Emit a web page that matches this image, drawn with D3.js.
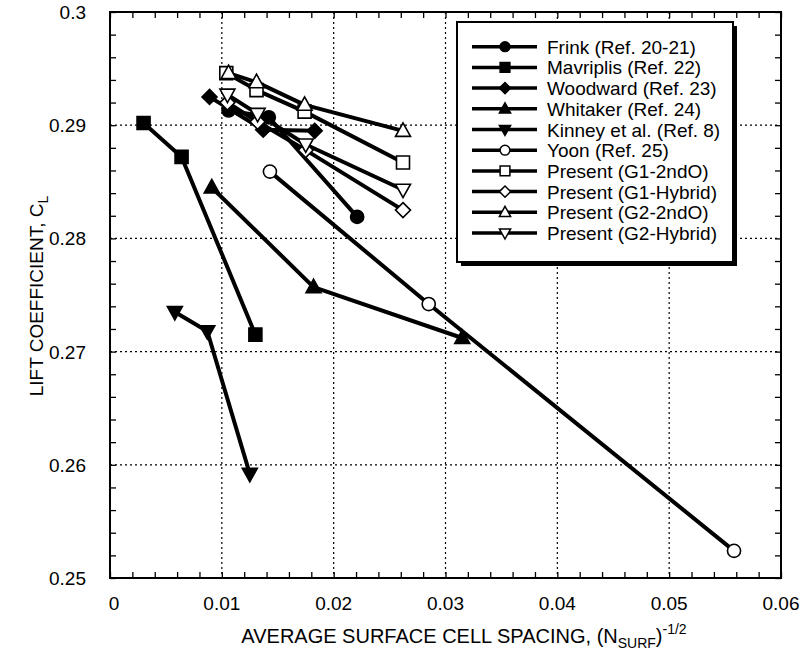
<!DOCTYPE html>
<html><head><meta charset="utf-8">
<script src="https://cdn.jsdelivr.net/npm/d3@7"></script>
<style>body{margin:0;background:#fff}svg{display:block}text{font-family:"Liberation Sans",Arial,sans-serif;fill:#000}</style>
</head><body><svg id="c" width="809" height="657"></svg>
<script>
// ---- data ----
const seriesNames = ["Frink (Ref. 20-21)","Mavriplis (Ref. 22)","Woodward (Ref. 23)","Whitaker (Ref. 24)","Kinney et al. (Ref. 8)","Yoon (Ref. 25)","Present (G1-2ndO)","Present (G1-Hybrid)","Present (G2-2ndO)","Present (G2-Hybrid)"];
const seriesSymbols = ["circle","square","diamond","triangle","triangleDown","circle","square","diamond","triangle","triangleDown"];
const seriesFilled = [true,true,true,true,true,false,false,false,false,false];
const frinkX = [0.0106,0.0142,0.0221];      const frinkY = [0.2913,0.2907,0.2819];
const mavriplisX = [0.0030,0.0064,0.0130];  const mavriplisY = [0.2902,0.2872,0.2715];
const woodwardX = [0.0089,0.0137,0.0183];   const woodwardY = [0.2925,0.2896,0.2895];
const whitakerX = [0.0091,0.0182,0.0315];   const whitakerY = [0.2845,0.2757,0.2712];
const kinneyX = [0.0058,0.0087,0.0125];     const kinneyY = [0.2735,0.2718,0.2592];
const yoonX = [0.0143,0.0285,0.0558];       const yoonY = [0.2859,0.2742,0.2524];
const g1SecondX = [0.0104,0.0131,0.0174,0.0262]; const g1SecondY = [0.2946,0.2931,0.2912,0.2867];
const g1HybridX = [0.0105,0.0132,0.0175,0.0262]; const g1HybridY = [0.2920,0.2903,0.2878,0.2825];
const g2SecondX = [0.0106,0.0131,0.0174,0.0262]; const g2SecondY = [0.2946,0.2938,0.2918,0.2895];
const g2HybridX = [0.0105,0.0132,0.0175,0.0262]; const g2HybridY = [0.2927,0.2910,0.2883,0.2843];
const seriesX = [frinkX,mavriplisX,woodwardX,whitakerX,kinneyX,yoonX,g1SecondX,g1HybridX,g2SecondX,g2HybridX];
const seriesY = [frinkY,mavriplisY,woodwardY,whitakerY,kinneyY,yoonY,g1SecondY,g1HybridY,g2SecondY,g2HybridY];
const xTicks = [0,0.01,0.02,0.03,0.04,0.05,0.06];
const xTickLabels = ["0","0.01","0.02","0.03","0.04","0.05","0.06"];
const yTicks = [0.25,0.26,0.27,0.28,0.29,0.3];
const yTickLabels = ["0.25","0.26","0.27","0.28","0.29","0.3"];

// ---- layout ----
const L=110,R=781,T=12,B=578;
const svg=d3.select("#c");
const x=d3.scaleLinear().domain([0,0.06]).range([L,R]);
const y=d3.scaleLinear().domain([0.25,0.3]).range([B,T]);

// grid
const g=svg.append("g");
g.selectAll(".gx").data(xTicks.slice(1,-1)).enter().append("line")
 .attr("x1",d=>x(d)).attr("x2",d=>x(d)).attr("y1",T).attr("y2",B)
 .attr("stroke","#000").attr("stroke-width",1.2).attr("stroke-dasharray","2,3");
g.selectAll(".gy").data(yTicks.slice(1,-1)).enter().append("line")
 .attr("y1",d=>y(d)).attr("y2",d=>y(d)).attr("x1",L).attr("x2",R)
 .attr("stroke","#000").attr("stroke-width",1.2).attr("stroke-dasharray","2,3");

// axes (ticks inward)
const minorX=d3.range(0,0.0601,0.002), minorY=d3.range(0.25,0.3001,0.002);
const axB=svg.append("g").attr("transform",`translate(0,${B})`)
 .call(d3.axisBottom(x).tickValues(minorX).tickSize(-6).tickFormat(""));
const axT=svg.append("g").attr("transform",`translate(0,${T})`)
 .call(d3.axisTop(x).tickValues(minorX).tickSize(-6).tickFormat(""));
const axL=svg.append("g").attr("transform",`translate(${L},0)`)
 .call(d3.axisLeft(y).tickValues(minorY).tickSize(-6).tickFormat(""));
const axR=svg.append("g").attr("transform",`translate(${R},0)`)
 .call(d3.axisRight(y).tickValues(minorY).tickSize(-6).tickFormat(""));
[axB,axT,axL,axR].forEach(a=>{a.select(".domain").remove();a.selectAll(".tick line").attr("stroke","#000").attr("stroke-width",1.3);});
svg.append("rect").attr("x",L).attr("y",T).attr("width",R-L).attr("height",B-T)
 .attr("fill","none").attr("stroke","#000").attr("stroke-width",2);

// tick labels
svg.selectAll(".xl").data(xTicks).enter().append("text")
 .attr("x",(d)=>x(d)+(d===0?4:0)).attr("y",B+32).attr("text-anchor","middle")
 .attr("font-size",19).text((d,i)=>xTickLabels[i]);
svg.selectAll(".yl").data(yTicks).enter().append("text")
 .attr("x",L-24).attr("y",d=>y(d)+7).attr("text-anchor","end")
 .attr("font-size",19).text((d,i)=>yTickLabels[i]);

// axis titles
const xt=svg.append("text").attr("x",464).attr("y",643).attr("text-anchor","middle").attr("font-size",20);
xt.append("tspan").text("AVERAGE SURFACE CELL SPACING, (N");
xt.append("tspan").attr("font-size",14).attr("dy",5).text("SURF");
xt.append("tspan").attr("dy",-5).text(")");
xt.append("tspan").attr("font-size",14).attr("dy",-9).text("-1/2");
const yt=svg.append("text").attr("transform","translate(43,296) rotate(-90)").attr("text-anchor","middle").attr("font-size",19);
yt.append("tspan").text("LIFT COEFFICIENT, C");
yt.append("tspan").attr("font-size",14).attr("dy",5).text("L");

// symbols
function symPath(s){
  if(s==="circle") return d3.symbol().type(d3.symbolCircle).size(135)();
  if(s==="square") return "M-6.5,-6.5H6.5V6.5H-6.5Z";
  if(s==="diamond") return "M0,-7.5L7.5,0L0,7.5L-7.5,0Z";
  if(s==="triangle") return "M0,-8L7.5,5.5H-7.5Z";
  return "M0,8L7.5,-5.5H-7.5Z";
}
function drawSym(sel,i,cx,cy){
  sel.append("path").attr("d",symPath(seriesSymbols[i]))
   .attr("transform",`translate(${cx},${cy})`)
   .attr("fill",seriesFilled[i]?"#000":"#fff").attr("stroke","#000").attr("stroke-width",1.6);
}

// lines & markers
const line=d3.line().x(d=>x(d[0])).y(d=>y(d[1]));
const plot=svg.append("g");
seriesNames.forEach((n,i)=>{
  const pts=seriesX[i].map((v,j)=>[v,seriesY[i][j]]);
  plot.append("path").attr("d",line(pts)).attr("fill","none").attr("stroke","#000").attr("stroke-width",4).attr("stroke-linejoin","round");
});
seriesNames.forEach((n,i)=>{
  seriesX[i].forEach((v,j)=>drawSym(plot,i,x(v),y(seriesY[i][j])));
});

// legend
const lg=svg.append("g");
lg.append("rect").attr("x",461).attr("y",26).attr("width",276).attr("height",240).attr("fill","#000");
lg.append("rect").attr("x",457).attr("y",22).attr("width",276).attr("height",240).attr("fill","#fff").attr("stroke","#000").attr("stroke-width",2);
seriesNames.forEach((n,i)=>{
  const yy=46.7+i*20.7;
  lg.append("line").attr("x1",472).attr("x2",537).attr("y1",yy).attr("y2",yy).attr("stroke","#000").attr("stroke-width",3.5);
  lg.append("path").attr("d",symPath(seriesSymbols[i])).attr("transform",`translate(505,${yy}) scale(0.75)`)
   .attr("fill",seriesFilled[i]?"#000":"#fff").attr("stroke","#000").attr("stroke-width",2);
  lg.append("text").attr("x",547).attr("y",yy+7).attr("font-size",19).text(n);
});
</script></body></html>
